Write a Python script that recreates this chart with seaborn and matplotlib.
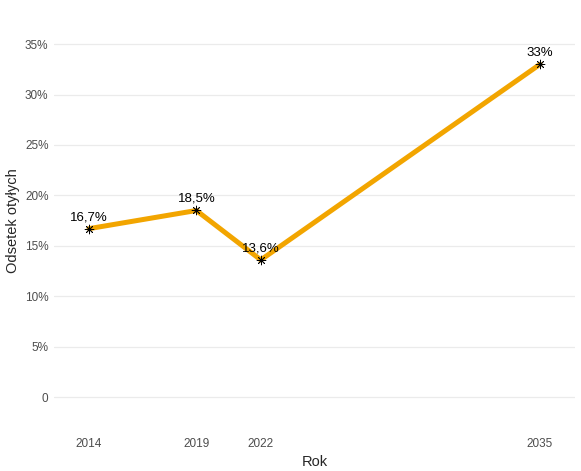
import matplotlib
matplotlib.use("Agg")
import matplotlib.pyplot as plt
import seaborn as sns
import pandas as pd

# ----------------------------
# DATA
# ----------------------------
years = [2014, 2019, 2022, 2035]
obesity_pct = [16.7, 18.5, 13.6, 33.0]
point_labels = ["16,7%", "18,5%", "13,6%", "33%"]
y_ticks = [0, 5, 10, 15, 20, 25, 30, 35]
y_tick_labels = ["0", "5%", "10%", "15%", "20%", "25%", "30%", "35%"]

df = pd.DataFrame({"Rok": years, "Odsetek": obesity_pct})

sns.set_style("white")
plt.rcParams["font.family"] = ["Liberation Sans", "DejaVu Sans"]

fig = plt.figure(figsize=(5.81, 4.71), dpi=100)
ax = fig.add_axes([54 / 581, 1 - 430 / 471, (575 - 54) / 581, (430 - 28) / 471])

sns.lineplot(data=df, x="Rok", y="Odsetek", color="#F2A500", linewidth=3.6, ax=ax, zorder=2)
sns.scatterplot(data=df, x="Rok", y="Odsetek", marker=(8, 2, 0), color="black",
                s=40, linewidth=0.6, edgecolor="black", ax=ax, zorder=3)

for x, y, lab in zip(years, obesity_pct, point_labels):
    ax.annotate(lab, (x, y), xytext=(0, 4), textcoords="offset points",
                ha="center", va="bottom", fontsize=9.5, color="black")

ax.set_xlim(2012.37, 2036.63)
ax.set_ylim(-3.27, 36.6)
ax.set_xticks(years)
ax.set_xticklabels([str(y) for y in years])
ax.set_yticks(y_ticks)
ax.set_yticklabels(y_tick_labels)
ax.tick_params(axis="both", length=0, labelsize=8.5, labelcolor="#4D4D4D")
ax.tick_params(axis="y", pad=4)
ax.tick_params(axis="x", pad=6)

ax.grid(axis="y", color="#EBEBEB", linewidth=0.9)
ax.grid(axis="x", visible=False)
for s in ax.spines.values():
    s.set_visible(False)

ax.set_xlabel("Rok", fontsize=10.5, labelpad=3)
ax.set_ylabel("Odsetek otyłych", fontsize=10.5, va="center")
ax.yaxis.set_label_coords((13 - 54) / (575 - 54), 0.52)

fig.savefig("out.png", dpi=100)
